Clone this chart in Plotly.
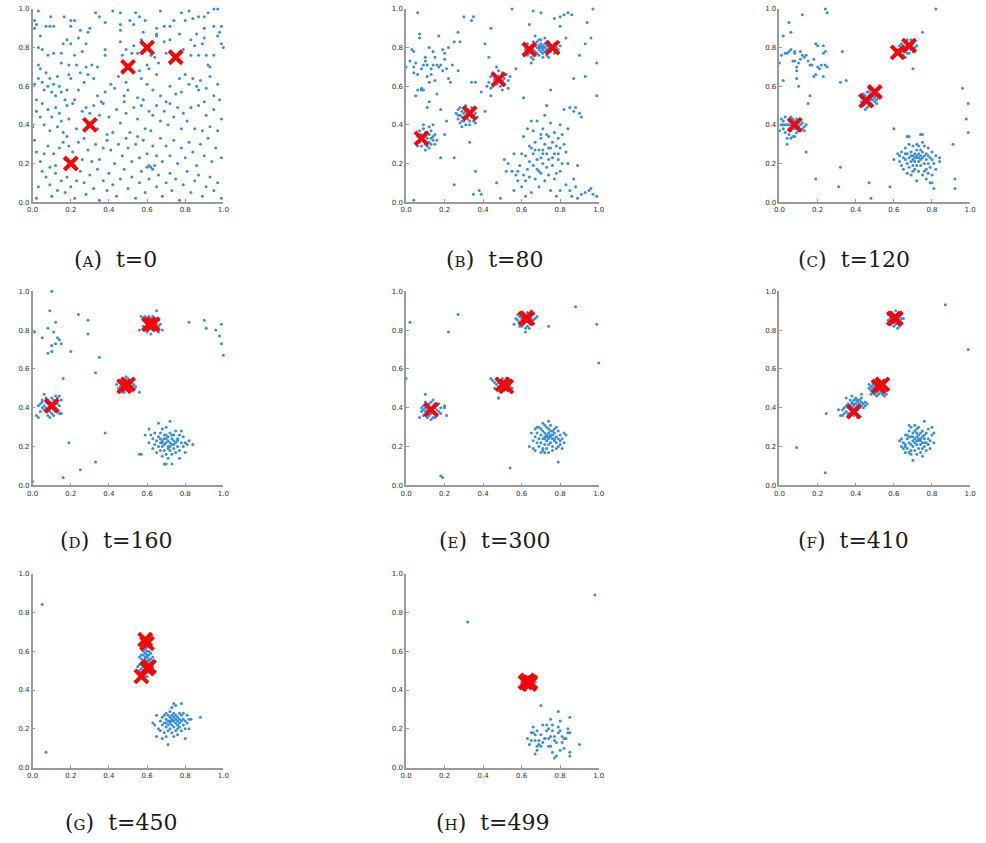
import plotly.graph_objects as go

# ---------------- data ----------------
LABELS = ["A", "B", "C", "D", "E", "F", "G", "H"]
TIMES = [0, 80, 120, 160, 300, 410, 450, 499]

PTS_A = [
(0.01,0.94),(0.02,0.92),(0.03,0.99),(0.01,0.90),(0.04,0.86),(0.07,0.91),(0.09,0.91),(0.095,0.96),(0.11,0.91),(0.165,0.96),
(0.2,0.94),(0.22,0.94),(0.2,0.91),(0.29,0.88),(0.30,0.90),(0.33,0.98),(0.35,0.96),(0.38,0.93),(0.42,0.99),(0.46,0.98),
(0.46,0.92),(0.51,0.94),(0.53,0.92),(0.54,0.98),(0.56,0.96),(0.59,0.94),(0.67,0.99),(0.65,0.90),(0.69,0.91),(0.72,0.91),
(0.74,0.94),(0.78,0.98),(0.80,0.94),(0.82,0.99),(0.84,0.95),(0.87,0.96),(0.90,0.96),(0.92,0.98),(0.95,1.0),(0.97,1.0),
(0.95,0.91),(0.99,0.91),(0.98,0.88),(0.97,0.86),(0.90,0.90),(0.86,0.87),(0.77,0.87),(0.58,0.88),(0.65,0.87),(0.46,0.89),(0.25,0.89),
(0.05,0.79),(0.03,0.80),(0.03,0.71),(0.08,0.76),(0.04,0.69),(0.11,0.77),(0.15,0.77),(0.16,0.82),(0.18,0.84),(0.20,0.82),
(0.15,0.72),(0.19,0.71),(0.22,0.76),(0.24,0.85),(0.28,0.82),(0.26,0.78),(0.23,0.71),(0.28,0.70),(0.31,0.71),(0.34,0.70),
(0.38,0.76),(0.38,0.79),(0.46,0.83),(0.49,0.79),(0.52,0.77),(0.53,0.81),(0.55,0.77),(0.57,0.84),(0.62,0.76),(0.66,0.72),
(0.64,0.75),(0.70,0.77),(0.72,0.84),(0.69,0.83),(0.79,0.79),(0.83,0.76),(0.85,0.81),(0.87,0.76),(0.89,0.82),(0.91,0.76),
(0.92,0.71),(0.93,0.70),(0.95,0.76),(0.99,0.82),(1.0,0.80),(0.83,0.84),(0.90,0.85),(0.47,0.76),(0.60,0.71),(0.65,0.86),
(0.01,0.61),(0.03,0.64),(0.05,0.62),(0.06,0.58),(0.07,0.67),(0.08,0.60),(0.09,0.64),(0.10,0.57),(0.11,0.61),(0.12,0.55),
(0.13,0.65),(0.14,0.60),(0.15,0.57),(0.17,0.53),(0.18,0.58),(0.19,0.66),(0.20,0.64),(0.22,0.53),(0.25,0.67),(0.27,0.62),
(0.29,0.66),(0.32,0.64),(0.34,0.55),(0.36,0.52),(0.38,0.57),(0.41,0.61),(0.43,0.59),(0.45,0.65),(0.48,0.55),(0.49,0.62),
(0.50,0.58),(0.55,0.54),(0.56,0.68),(0.58,0.53),(0.60,0.61),(0.61,0.69),(0.63,0.58),(0.65,0.66),(0.67,0.55),(0.70,0.52),
(0.72,0.60),(0.75,0.56),(0.77,0.64),(0.78,0.57),(0.80,0.66),(0.82,0.61),(0.84,0.64),(0.86,0.60),(0.87,0.58),(0.88,0.63),
(0.90,0.52),(0.91,0.59),(0.93,0.65),(0.95,0.55),(0.97,0.61),(0.98,0.53),(0.02,0.53),(0.24,0.58),(0.47,0.68),(0.57,0.64),
(0.0,0.39),(0.02,0.47),(0.04,0.44),(0.05,0.51),(0.06,0.40),(0.08,0.48),(0.09,0.37),(0.10,0.44),(0.12,0.49),(0.13,0.39),
(0.14,0.46),(0.16,0.36),(0.18,0.50),(0.19,0.43),(0.21,0.51),(0.23,0.38),(0.26,0.47),(0.28,0.49),(0.30,0.46),(0.32,0.50),
(0.34,0.38),(0.35,0.45),(0.37,0.51),(0.40,0.44),(0.42,0.36),(0.44,0.48),(0.46,0.41),(0.48,0.52),(0.49,0.46),(0.51,0.36),
(0.53,0.49),(0.55,0.43),(0.57,0.50),(0.59,0.38),(0.61,0.47),(0.63,0.45),(0.65,0.50),(0.67,0.42),(0.69,0.47),(0.71,0.40),
(0.72,0.51),(0.74,0.44),(0.76,0.49),(0.78,0.38),(0.79,0.46),(0.81,0.42),(0.83,0.49),(0.85,0.38),(0.87,0.50),(0.89,0.37),
(0.91,0.45),(0.93,0.39),(0.95,0.48),(0.97,0.37),(0.99,0.43),(0.39,0.35),(0.15,0.42),(0.62,0.37),
(0.01,0.32),(0.02,0.26),(0.04,0.21),(0.06,0.25),(0.08,0.29),(0.09,0.18),(0.11,0.25),(0.12,0.19),(0.14,0.28),(0.16,0.31),
(0.17,0.22),(0.19,0.29),(0.21,0.26),(0.22,0.19),(0.24,0.31),(0.26,0.22),(0.27,0.33),(0.29,0.27),(0.31,0.21),(0.33,0.30),
(0.35,0.22),(0.37,0.28),(0.39,0.32),(0.41,0.27),(0.43,0.20),(0.45,0.30),(0.47,0.24),(0.49,0.33),(0.50,0.28),(0.52,0.21),
(0.54,0.30),(0.56,0.23),(0.58,0.32),(0.60,0.25),(0.61,0.19),(0.63,0.29),(0.65,0.24),(0.67,0.33),(0.68,0.21),(0.70,0.29),
(0.72,0.24),(0.74,0.32),(0.76,0.20),(0.78,0.28),(0.80,0.23),(0.82,0.31),(0.84,0.26),(0.86,0.19),(0.88,0.30),(0.90,0.24),
(0.92,0.33),(0.94,0.21),(0.96,0.28),(0.99,0.23),(0.55,0.34),(0.18,0.34),(0.64,0.19),
(0.02,0.02),(0.03,0.08),(0.05,0.16),(0.07,0.13),(0.09,0.09),(0.10,0.03),(0.12,0.15),(0.13,0.06),(0.15,0.11),(0.17,0.05),
(0.18,0.13),(0.20,0.08),(0.22,0.02),(0.23,0.11),(0.25,0.16),(0.27,0.10),(0.28,0.04),(0.30,0.14),(0.32,0.07),(0.34,0.17),
(0.35,0.01),(0.37,0.11),(0.39,0.06),(0.40,0.15),(0.42,0.09),(0.44,0.03),(0.46,0.12),(0.48,0.17),(0.50,0.07),(0.52,0.13),
(0.54,0.02),(0.56,0.10),(0.57,0.16),(0.59,0.05),(0.61,0.12),(0.63,0.17),(0.65,0.08),(0.66,0.14),(0.68,0.03),(0.70,0.10),
(0.72,0.15),(0.73,0.06),(0.75,0.12),(0.77,0.01),(0.79,0.09),(0.81,0.16),(0.83,0.05),(0.85,0.11),(0.87,0.14),(0.89,0.03),
(0.91,0.08),(0.93,0.13),(0.95,0.06),(0.97,0.10),(0.99,0.02),(0.60,0.18),(0.62,0.18),
]

PTS_B = [
(0.06,0.34),(0.07,0.31),(0.07,0.37),(0.08,0.29),(0.08,0.35),(0.09,0.32),(0.09,0.38),(0.10,0.30),(0.10,0.34),(0.10,0.27),
(0.11,0.33),(0.11,0.36),(0.11,0.29),(0.12,0.31),(0.12,0.35),(0.12,0.28),(0.13,0.33),(0.13,0.37),(0.13,0.30),(0.14,0.34),
(0.14,0.32),(0.15,0.35),(0.15,0.30),(0.16,0.32),(0.09,0.40),(0.12,0.39),(0.14,0.40),(0.06,0.29),(0.11,0.31),(0.10,0.36),
(0.26,0.46),(0.27,0.43),(0.27,0.48),(0.28,0.45),(0.28,0.41),(0.29,0.47),(0.29,0.44),(0.30,0.42),(0.30,0.46),(0.30,0.49),
(0.31,0.44),(0.31,0.47),(0.31,0.40),(0.32,0.45),(0.32,0.43),(0.32,0.48),(0.33,0.46),(0.33,0.42),(0.34,0.44),(0.34,0.47),
(0.35,0.45),(0.35,0.42),(0.36,0.46),(0.37,0.44),(0.28,0.49),(0.29,0.42),(0.31,0.50),(0.33,0.40),(0.36,0.41),(0.27,0.45),
(0.30,0.44),(0.32,0.46),(0.34,0.49),(0.29,0.39),
(0.43,0.62),(0.44,0.65),(0.45,0.60),(0.45,0.67),(0.46,0.63),(0.46,0.66),(0.47,0.61),(0.47,0.64),(0.48,0.68),(0.48,0.62),
(0.49,0.65),(0.49,0.60),(0.50,0.63),(0.50,0.67),(0.51,0.64),(0.51,0.61),(0.52,0.66),(0.53,0.63),(0.53,0.59),(0.54,0.65),
(0.44,0.59),(0.47,0.70),(0.50,0.58),(0.46,0.64),(0.48,0.65),
(0.62,0.79),(0.63,0.76),(0.63,0.82),(0.64,0.80),(0.64,0.77),(0.65,0.81),(0.65,0.75),(0.66,0.79),(0.66,0.83),(0.67,0.78),
(0.67,0.81),(0.68,0.80),(0.68,0.77),(0.68,0.83),(0.69,0.79),(0.69,0.81),(0.69,0.76),(0.70,0.80),(0.70,0.78),(0.70,0.82),
(0.70,0.84),(0.71,0.79),(0.71,0.81),(0.71,0.77),(0.72,0.80),(0.72,0.82),(0.72,0.78),(0.73,0.79),(0.73,0.81),(0.73,0.76),
(0.74,0.80),(0.74,0.83),(0.75,0.78),(0.75,0.81),(0.76,0.79),(0.77,0.82),(0.77,0.77),(0.78,0.80),(0.79,0.79),(0.80,0.81),
(0.66,0.74),(0.69,0.84),(0.71,0.75),(0.72,0.85),(0.65,0.72),(0.74,0.75),(0.67,0.86),(0.70,0.81),(0.71,0.80),(0.69,0.80),
(0.00,0.70),(0.02,0.73),(0.03,0.79),(0.04,0.67),(0.04,0.70),(0.05,0.55),(0.05,0.72),(0.06,0.66),(0.06,0.98),(0.07,0.87),
(0.07,0.85),(0.08,0.69),(0.08,0.59),(0.09,0.58),(0.09,0.71),(0.10,0.73),(0.11,0.71),(0.11,0.65),(0.12,0.80),(0.12,0.62),
(0.13,0.66),(0.13,0.69),(0.14,0.71),(0.14,0.78),(0.15,0.63),(0.15,0.75),(0.16,0.71),(0.17,0.86),(0.17,0.70),(0.18,0.71),
(0.19,0.79),(0.19,0.68),(0.20,0.77),(0.20,0.74),(0.21,0.69),(0.22,0.80),(0.22,0.64),(0.23,0.62),(0.24,0.71),(0.25,0.83),
(0.27,0.68),(0.27,0.88),(0.28,0.83),(0.10,0.75),(0.12,0.52),(0.16,0.56),(0.18,0.48),(0.11,0.49),(0.08,0.58),(0.04,0.78),
(0.51,0.22),(0.52,0.16),(0.53,0.20),(0.55,0.16),(0.56,0.25),(0.56,0.06),(0.57,0.14),(0.58,0.16),(0.58,0.11),(0.59,0.19),
(0.60,0.08),(0.60,0.25),(0.61,0.14),(0.61,0.34),(0.62,0.11),(0.62,0.24),(0.63,0.17),(0.63,0.38),(0.64,0.21),(0.64,0.13),
(0.65,0.42),(0.65,0.28),(0.65,0.05),(0.66,0.25),(0.66,0.19),(0.66,0.37),(0.67,0.12),(0.67,0.31),(0.68,0.22),(0.68,0.42),
(0.68,0.17),(0.69,0.27),(0.69,0.08),(0.70,0.33),(0.70,0.23),(0.70,0.15),(0.71,0.38),(0.71,0.27),(0.71,0.20),(0.72,0.11),
(0.72,0.30),(0.72,0.45),(0.73,0.25),(0.73,0.18),(0.73,0.50),(0.74,0.34),(0.74,0.22),(0.74,0.14),(0.75,0.28),(0.75,0.06),
(0.75,0.41),(0.76,0.19),(0.76,0.31),(0.77,0.25),(0.77,0.12),(0.77,0.36),(0.78,0.29),(0.78,0.15),(0.78,0.03),(0.79,0.22),
(0.79,0.33),(0.80,0.28),(0.80,0.06),(0.81,0.20),(0.81,0.35),(0.82,0.30),(0.82,0.48),(0.83,0.09),(0.83,0.26),(0.84,0.20),
(0.84,0.38),(0.85,0.06),(0.85,0.49),(0.86,0.03),(0.87,0.47),(0.87,0.12),(0.88,0.49),(0.88,0.08),(0.89,0.02),(0.89,0.19),
(0.90,0.46),(0.91,0.44),(0.91,0.04),(0.93,0.05),(0.95,0.06),(0.96,0.07),(0.97,0.04),(0.99,0.03),(0.62,0.03),(0.70,0.35),
(0.73,0.35),(0.76,0.23),(0.79,0.25),(0.80,0.16),(0.67,0.27),(0.74,0.28),(0.71,0.25),(0.69,0.16),(0.64,0.29),(0.80,0.40),
(0.04,0.01),(0.18,0.23),(0.21,0.42),(0.25,0.09),(0.25,0.23),(0.33,0.31),(0.35,0.04),(0.36,0.16),(0.38,0.06),(0.39,0.04),
(0.41,0.47),(0.39,0.57),(0.34,0.62),(0.30,0.96),(0.34,0.94),(0.35,0.96),(0.41,0.82),(0.44,0.90),(0.43,0.75),(0.47,0.10),
(0.49,0.02),(0.55,1.0),(0.57,0.69),(0.61,0.54),(0.64,0.92),(0.66,0.99),(0.70,0.98),(0.75,0.58),(0.77,0.95),(0.80,0.91),
(0.80,0.96),(0.82,0.97),(0.84,0.98),(0.86,0.97),(0.83,0.85),(0.87,0.64),(0.90,0.76),(0.93,0.82),(0.94,0.93),(0.96,0.85),
(0.97,1.0),(0.99,0.72),(0.99,0.55),(0.93,0.65),(0.44,0.55),(0.42,0.60),(0.36,0.62),(0.20,0.35),(0.06,0.58),
]

PTS_C = [
(0.00,0.37),(0.01,0.40),(0.01,0.43),(0.02,0.38),(0.02,0.42),(0.03,0.36),(0.03,0.44),(0.04,0.40),(0.04,0.33),(0.04,0.30),
(0.05,0.38),(0.05,0.42),(0.05,0.35),(0.06,0.40),(0.06,0.44),(0.06,0.37),(0.07,0.41),(0.07,0.39),(0.07,0.34),(0.08,0.42),
(0.08,0.38),(0.08,0.40),(0.09,0.36),(0.09,0.43),(0.09,0.40),(0.10,0.39),(0.10,0.42),(0.10,0.37),(0.11,0.40),(0.11,0.43),
(0.12,0.38),(0.12,0.41),(0.13,0.37),(0.13,0.39),(0.14,0.40),(0.06,0.33),(0.08,0.34),(0.03,0.40),(0.05,0.40),(0.07,0.43),
(0.09,0.38),(0.11,0.37),(0.02,0.40),(0.14,0.26),
(0.42,0.55),(0.43,0.52),(0.43,0.54),(0.44,0.50),(0.44,0.56),(0.45,0.53),(0.45,0.55),(0.45,0.51),(0.46,0.54),(0.46,0.57),
(0.46,0.52),(0.47,0.50),(0.47,0.55),(0.47,0.53),(0.47,0.59),(0.48,0.54),(0.48,0.56),(0.48,0.51),(0.48,0.58),(0.49,0.53),
(0.49,0.55),(0.49,0.50),(0.50,0.54),(0.50,0.57),(0.50,0.52),(0.51,0.55),(0.51,0.53),(0.52,0.56),(0.52,0.54),(0.53,0.55),
(0.46,0.49),(0.44,0.53),(0.48,0.53),(0.47,0.57),(0.50,0.55),(0.49,0.58),(0.45,0.48),(0.51,0.51),
(0.62,0.79),(0.63,0.81),(0.63,0.77),(0.64,0.80),(0.64,0.78),(0.64,0.82),(0.65,0.79),(0.65,0.81),(0.65,0.76),(0.66,0.80),
(0.66,0.83),(0.66,0.78),(0.67,0.81),(0.67,0.79),(0.67,0.84),(0.68,0.80),(0.68,0.82),(0.68,0.77),(0.69,0.81),(0.69,0.79),
(0.70,0.80),(0.70,0.82),(0.71,0.80),(0.72,0.81),(0.65,0.84),(0.66,0.75),(0.69,0.84),(0.67,0.77),(0.64,0.76),(0.70,0.78),
(0.60,0.22),(0.62,0.25),(0.63,0.21),(0.64,0.19),(0.64,0.26),(0.65,0.23),(0.65,0.17),(0.66,0.22),(0.66,0.28),(0.67,0.20),
(0.67,0.25),(0.67,0.15),(0.68,0.23),(0.68,0.30),(0.68,0.18),(0.69,0.21),(0.69,0.26),(0.69,0.14),(0.70,0.24),(0.70,0.19),
(0.70,0.29),(0.70,0.22),(0.71,0.17),(0.71,0.25),(0.71,0.21),(0.72,0.27),(0.72,0.23),(0.72,0.11),(0.72,0.19),(0.73,0.25),
(0.73,0.21),(0.73,0.29),(0.73,0.16),(0.74,0.24),(0.74,0.22),(0.74,0.35),(0.74,0.19),(0.75,0.26),(0.75,0.23),(0.75,0.14),
(0.76,0.24),(0.76,0.20),(0.76,0.29),(0.77,0.22),(0.77,0.25),(0.77,0.17),(0.77,0.12),(0.78,0.24),(0.78,0.20),(0.78,0.28),
(0.79,0.23),(0.79,0.18),(0.80,0.22),(0.80,0.26),(0.81,0.20),(0.82,0.24),(0.82,0.17),(0.84,0.21),(0.84,0.23),(0.68,0.34),
(0.66,0.25),(0.70,0.16),(0.72,0.30),(0.75,0.31),(0.71,0.23),(0.74,0.27),(0.72,0.24),(0.76,0.16),(0.69,0.24),(0.73,0.23),
(0.63,0.24),(0.79,0.10),(0.80,0.14),(0.78,0.15),
(0.00,0.72),(0.01,0.76),(0.02,0.63),(0.02,0.86),(0.03,0.77),(0.04,0.77),(0.05,0.78),(0.05,0.93),(0.06,0.79),(0.06,0.88),
(0.07,0.73),(0.08,0.73),(0.08,0.77),(0.08,0.78),(0.09,0.68),(0.09,0.70),(0.09,0.64),(0.10,0.72),(0.10,0.60),(0.11,0.74),
(0.11,0.78),(0.12,0.76),(0.12,0.97),(0.13,0.75),(0.14,0.76),(0.15,0.73),(0.16,0.71),(0.16,0.55),(0.15,0.51),(0.17,0.71),
(0.18,0.65),(0.18,0.74),(0.19,0.66),(0.19,0.82),(0.20,0.81),(0.20,0.70),(0.21,0.69),(0.22,0.71),(0.23,0.81),(0.23,0.77),
(0.23,0.65),(0.24,0.78),(0.24,0.71),(0.25,0.70),(0.24,1.0),(0.25,0.98),
(0.19,0.12),(0.31,0.08),(0.32,0.18),(0.32,0.62),(0.33,0.78),(0.35,0.63),(0.47,0.10),(0.48,0.02),(0.58,0.08),(0.60,0.38),
(0.67,0.34),(0.70,0.69),(0.75,0.35),(0.75,0.88),(0.82,1.0),(0.80,0.10),(0.81,0.07),(0.91,0.30),(0.92,0.12),(0.92,0.07),
(0.96,0.59),(0.98,0.43),(0.99,0.51),(0.99,0.36),
]

PTS_D = [
(0.03,0.41),(0.04,0.38),(0.04,0.42),(0.05,0.40),(0.05,0.44),(0.06,0.39),(0.06,0.41),(0.06,0.47),(0.07,0.38),(0.07,0.43),
(0.07,0.40),(0.08,0.42),(0.08,0.36),(0.08,0.39),(0.08,0.44),(0.09,0.41),(0.09,0.38),(0.09,0.43),(0.10,0.40),(0.10,0.37),
(0.10,0.42),(0.10,0.45),(0.11,0.39),(0.11,0.41),(0.11,0.44),(0.12,0.38),(0.12,0.43),(0.12,0.40),(0.13,0.42),(0.13,0.39),
(0.13,0.45),(0.14,0.41),(0.14,0.37),(0.15,0.44),(0.15,0.37),(0.07,0.45),(0.09,0.35),(0.11,0.36),(0.05,0.43),(0.12,0.46),
(0.14,0.46),(0.02,0.36),
(0.44,0.52),(0.45,0.50),(0.45,0.54),(0.46,0.51),(0.46,0.53),(0.46,0.49),(0.47,0.52),(0.47,0.55),(0.47,0.50),(0.48,0.51),
(0.48,0.53),(0.48,0.48),(0.49,0.52),(0.49,0.50),(0.49,0.54),(0.49,0.56),(0.50,0.51),(0.50,0.49),(0.50,0.53),(0.51,0.52),
(0.51,0.50),(0.51,0.54),(0.52,0.51),(0.52,0.53),(0.53,0.52),(0.53,0.50),(0.54,0.51),(0.47,0.48),(0.50,0.55),(0.48,0.49),
(0.56,0.48),
(0.56,0.80),(0.57,0.87),(0.58,0.82),(0.58,0.85),(0.59,0.80),(0.59,0.84),(0.60,0.83),(0.60,0.86),(0.60,0.79),(0.61,0.82),
(0.61,0.84),(0.61,0.87),(0.62,0.81),(0.62,0.83),(0.62,0.78),(0.63,0.85),(0.63,0.82),(0.63,0.80),(0.64,0.84),(0.64,0.86),
(0.64,0.81),(0.65,0.83),(0.65,0.80),(0.65,0.90),(0.66,0.82),(0.66,0.85),(0.67,0.83),(0.68,0.80),(0.62,0.86),(0.60,0.81),
(0.63,0.87),(0.66,0.79),(0.59,0.87),
(0.59,0.26),(0.61,0.22),(0.62,0.26),(0.63,0.19),(0.63,0.24),(0.64,0.21),(0.64,0.27),(0.65,0.17),(0.65,0.23),(0.66,0.20),
(0.66,0.25),(0.66,0.32),(0.67,0.22),(0.67,0.18),(0.67,0.27),(0.68,0.23),(0.68,0.15),(0.68,0.20),(0.68,0.29),(0.69,0.24),
(0.69,0.21),(0.69,0.11),(0.69,0.18),(0.70,0.26),(0.70,0.22),(0.70,0.16),(0.70,0.30),(0.71,0.23),(0.71,0.20),(0.71,0.25),
(0.71,0.14),(0.72,0.22),(0.72,0.27),(0.72,0.18),(0.72,0.33),(0.73,0.24),(0.73,0.21),(0.73,0.16),(0.73,0.11),(0.74,0.23),
(0.74,0.26),(0.74,0.19),(0.75,0.22),(0.75,0.28),(0.75,0.17),(0.76,0.24),(0.76,0.20),(0.77,0.26),(0.77,0.18),(0.77,0.14),
(0.78,0.22),(0.78,0.28),(0.79,0.20),(0.79,0.25),(0.80,0.17),(0.80,0.22),(0.81,0.21),(0.82,0.23),(0.84,0.21),(0.57,0.16),
(0.69,0.26),(0.71,0.19),(0.73,0.26),(0.70,0.24),(0.72,0.20),(0.74,0.21),(0.68,0.22),(0.76,0.23),(0.70,0.11),(0.67,0.24),
(0.0,0.02),(0.01,0.79),(0.03,0.35),(0.05,0.76),(0.08,0.68),(0.08,0.81),(0.09,0.90),(0.10,0.69),(0.10,0.72),(0.10,1.0),
(0.11,0.79),(0.12,0.73),(0.12,0.84),(0.13,0.76),(0.14,0.75),(0.15,0.73),(0.16,0.55),(0.16,0.04),(0.19,0.22),(0.20,0.69),
(0.24,0.88),(0.25,0.08),(0.29,0.85),(0.29,0.78),(0.33,0.12),(0.33,0.58),(0.35,0.66),(0.38,0.27),(0.56,0.16),(0.61,0.29),
(0.82,0.84),(0.90,0.85),(0.91,0.81),(0.96,0.80),(0.98,0.77),(0.99,0.83),(0.99,0.73),(1.0,0.67),
]

PTS_E = [
(0.07,0.35),(0.08,0.38),(0.08,0.40),(0.09,0.36),(0.09,0.41),(0.10,0.38),(0.10,0.43),(0.10,0.40),(0.11,0.37),(0.11,0.41),
(0.11,0.39),(0.12,0.42),(0.12,0.38),(0.12,0.36),(0.12,0.40),(0.13,0.43),(0.13,0.39),(0.13,0.37),(0.14,0.41),(0.14,0.38),
(0.14,0.35),(0.15,0.40),(0.15,0.37),(0.15,0.42),(0.16,0.39),(0.16,0.36),(0.16,0.41),(0.17,0.38),(0.17,0.42),(0.18,0.37),
(0.18,0.40),(0.20,0.41),(0.20,0.40),(0.21,0.36),(0.10,0.47),(0.14,0.44),(0.11,0.35),(0.13,0.34),(0.15,0.35),(0.09,0.39),
(0.45,0.54),(0.46,0.50),(0.47,0.52),(0.47,0.55),(0.48,0.50),(0.48,0.53),(0.49,0.51),(0.49,0.54),(0.49,0.49),(0.50,0.52),
(0.50,0.55),(0.50,0.50),(0.51,0.53),(0.51,0.51),(0.51,0.49),(0.52,0.54),(0.52,0.52),(0.52,0.50),(0.53,0.53),(0.53,0.55),
(0.53,0.49),(0.54,0.51),(0.54,0.53),(0.55,0.50),(0.55,0.48),(0.48,0.45),(0.50,0.53),(0.52,0.55),(0.54,0.54),(0.46,0.53),
(0.56,0.83),(0.57,0.86),(0.58,0.85),(0.58,0.88),(0.59,0.84),(0.59,0.87),(0.60,0.86),(0.60,0.82),(0.61,0.88),(0.61,0.85),
(0.61,0.83),(0.62,0.87),(0.62,0.84),(0.62,0.79),(0.63,0.86),(0.63,0.89),(0.63,0.82),(0.64,0.85),(0.64,0.87),(0.65,0.84),
(0.65,0.86),(0.65,0.90),(0.66,0.85),(0.66,0.88),(0.67,0.86),(0.68,0.87),(0.60,0.89),(0.64,0.81),(0.62,0.81),(0.59,0.82),
(0.64,0.20),(0.65,0.27),(0.66,0.19),(0.66,0.23),(0.67,0.25),(0.67,0.29),(0.67,0.18),(0.68,0.22),(0.68,0.27),(0.69,0.24),
(0.69,0.20),(0.69,0.30),(0.70,0.26),(0.70,0.17),(0.70,0.22),(0.71,0.28),(0.71,0.24),(0.71,0.19),(0.71,0.32),(0.72,0.25),
(0.72,0.21),(0.72,0.27),(0.72,0.17),(0.73,0.23),(0.73,0.26),(0.73,0.30),(0.73,0.19),(0.74,0.24),(0.74,0.27),(0.74,0.21),
(0.74,0.33),(0.74,0.17),(0.75,0.25),(0.75,0.22),(0.75,0.28),(0.75,0.31),(0.76,0.24),(0.76,0.20),(0.76,0.26),(0.76,0.18),
(0.77,0.23),(0.77,0.27),(0.77,0.29),(0.78,0.22),(0.78,0.25),(0.78,0.19),(0.79,0.24),(0.79,0.28),(0.79,0.20),(0.80,0.23),
(0.80,0.26),(0.80,0.21),(0.81,0.24),(0.81,0.19),(0.82,0.27),(0.82,0.22),(0.83,0.26),(0.79,0.12),(0.71,0.18),(0.73,0.25),
(0.75,0.26),(0.77,0.24),(0.74,0.25),(0.72,0.24),(0.76,0.28),(0.70,0.29),(0.78,0.30),(0.68,0.30),(0.72,0.31),(0.74,0.29),
(0.00,0.55),(0.02,0.84),(0.18,0.05),(0.19,0.04),(0.22,0.79),(0.27,0.88),(0.44,0.55),(0.48,0.45),(0.54,0.09),(0.74,0.82),
(0.88,0.92),(0.99,0.83),(1.0,0.63),
]

PTS_F = [
(0.31,0.39),(0.32,0.36),(0.33,0.36),(0.33,0.39),(0.34,0.37),(0.35,0.41),(0.35,0.45),(0.35,0.38),(0.36,0.40),(0.36,0.42),
(0.36,0.37),(0.37,0.41),(0.37,0.39),(0.37,0.44),(0.38,0.42),(0.38,0.40),(0.38,0.38),(0.38,0.43),(0.39,0.41),(0.39,0.44),
(0.39,0.39),(0.39,0.36),(0.40,0.42),(0.40,0.40),(0.40,0.45),(0.40,0.38),(0.41,0.43),(0.41,0.41),(0.41,0.39),(0.42,0.42),
(0.42,0.44),(0.42,0.40),(0.43,0.43),(0.43,0.41),(0.43,0.45),(0.44,0.42),(0.44,0.40),(0.45,0.43),(0.45,0.41),(0.46,0.42),
(0.38,0.46),(0.40,0.44),(0.37,0.37),(0.41,0.35),(0.43,0.47),(0.36,0.36),(0.39,0.42),(0.41,0.44),(0.34,0.40),
(0.47,0.50),(0.48,0.49),(0.48,0.51),(0.48,0.47),(0.49,0.50),(0.49,0.52),(0.49,0.48),(0.50,0.51),(0.50,0.49),(0.50,0.53),
(0.50,0.47),(0.51,0.50),(0.51,0.52),(0.51,0.48),(0.52,0.49),(0.52,0.51),(0.52,0.47),(0.53,0.50),(0.53,0.48),(0.54,0.49),
(0.54,0.47),(0.55,0.48),(0.55,0.46),(0.56,0.47),(0.49,0.53),(0.51,0.46),(0.53,0.52),(0.47,0.52),(0.50,0.50),(0.52,0.53),
(0.57,0.85),(0.57,0.88),(0.58,0.86),(0.58,0.83),(0.59,0.87),(0.59,0.85),(0.59,0.89),(0.60,0.86),(0.60,0.84),(0.60,0.88),
(0.61,0.85),(0.61,0.87),(0.61,0.83),(0.61,0.90),(0.62,0.86),(0.62,0.84),(0.62,0.88),(0.63,0.85),(0.63,0.87),(0.63,0.82),
(0.64,0.86),(0.64,0.84),(0.65,0.86),(0.60,0.82),(0.62,0.81),(0.58,0.88),(0.64,0.88),
(0.63,0.23),(0.64,0.20),(0.64,0.24),(0.65,0.19),(0.65,0.22),(0.66,0.26),(0.66,0.17),(0.66,0.21),(0.67,0.24),(0.67,0.19),
(0.67,0.26),(0.68,0.22),(0.68,0.28),(0.68,0.17),(0.68,0.31),(0.69,0.25),(0.69,0.21),(0.69,0.18),(0.69,0.30),(0.70,0.23),
(0.70,0.27),(0.70,0.20),(0.70,0.13),(0.71,0.24),(0.71,0.22),(0.71,0.28),(0.71,0.18),(0.71,0.31),(0.72,0.25),(0.72,0.21),
(0.72,0.16),(0.72,0.29),(0.73,0.23),(0.73,0.26),(0.73,0.19),(0.73,0.30),(0.74,0.24),(0.74,0.21),(0.74,0.27),(0.74,0.17),
(0.75,0.22),(0.75,0.25),(0.75,0.28),(0.75,0.15),(0.76,0.24),(0.76,0.20),(0.76,0.26),(0.76,0.33),(0.77,0.22),(0.77,0.18),
(0.77,0.27),(0.78,0.24),(0.78,0.21),(0.78,0.29),(0.79,0.23),(0.79,0.19),(0.80,0.26),(0.80,0.30),(0.81,0.27),(0.81,0.22),
(0.73,0.24),(0.72,0.23),(0.74,0.23),(0.70,0.25),(0.76,0.22),(0.68,0.25),(0.75,0.19),(0.69,0.16),(0.72,0.27),(0.66,0.20),
(0.09,0.195),(0.24,0.065),(0.245,0.37),(0.87,0.93),(0.99,0.70),
]

PTS_G = [
(0.55,0.52),(0.56,0.50),(0.56,0.53),(0.56,0.57),(0.57,0.49),(0.57,0.51),(0.57,0.54),(0.57,0.56),(0.58,0.48),(0.58,0.52),
(0.58,0.55),(0.58,0.58),(0.58,0.60),(0.59,0.47),(0.59,0.50),(0.59,0.53),(0.59,0.56),(0.59,0.59),(0.59,0.61),(0.60,0.49),
(0.60,0.52),(0.60,0.54),(0.60,0.57),(0.60,0.60),(0.60,0.62),(0.61,0.50),(0.61,0.53),(0.61,0.55),(0.61,0.58),(0.61,0.60),
(0.62,0.51),(0.62,0.54),(0.62,0.56),(0.62,0.59),(0.63,0.52),(0.63,0.55),(0.63,0.57),(0.58,0.54),(0.60,0.55),(0.59,0.57),
(0.61,0.56),(0.57,0.58),(0.62,0.49),(0.60,0.47),(0.58,0.50),(0.60,0.58),(0.59,0.51),(0.61,0.52),
(0.63,0.23),(0.64,0.22),(0.65,0.27),(0.65,0.16),(0.66,0.20),(0.67,0.24),(0.67,0.19),(0.68,0.26),(0.68,0.22),(0.68,0.15),
(0.69,0.27),(0.69,0.23),(0.69,0.18),(0.70,0.25),(0.70,0.21),(0.70,0.28),(0.70,0.16),(0.71,0.24),(0.71,0.22),(0.71,0.12),
(0.71,0.19),(0.72,0.26),(0.72,0.23),(0.72,0.29),(0.72,0.20),(0.73,0.25),(0.73,0.22),(0.73,0.31),(0.73,0.18),(0.73,0.27),
(0.74,0.24),(0.74,0.21),(0.74,0.28),(0.74,0.16),(0.74,0.33),(0.75,0.25),(0.75,0.23),(0.75,0.19),(0.75,0.27),(0.75,0.32),
(0.76,0.24),(0.76,0.22),(0.76,0.26),(0.76,0.17),(0.77,0.25),(0.77,0.21),(0.77,0.23),(0.77,0.28),(0.78,0.24),(0.78,0.19),
(0.78,0.33),(0.79,0.22),(0.79,0.28),(0.79,0.25),(0.80,0.24),(0.80,0.20),(0.80,0.15),(0.81,0.27),(0.81,0.23),(0.82,0.20),
(0.82,0.25),(0.83,0.25),(0.88,0.26),(0.71,0.27),(0.74,0.26),(0.72,0.24),(0.76,0.20),(0.73,0.24),(0.78,0.27),(0.70,0.23),
(0.05,0.84),(0.07,0.08),
]

PTS_H = [
(0.60,0.44),(0.61,0.46),(0.62,0.42),(0.63,0.47),(0.64,0.41),(0.65,0.45),(0.66,0.43),(0.67,0.44),(0.67,0.46),(0.62,0.40),
(0.64,0.47),(0.66,0.41),
(0.63,0.15),(0.64,0.12),(0.65,0.18),(0.65,0.14),(0.66,0.21),(0.66,0.18),(0.67,0.07),(0.67,0.14),(0.67,0.17),(0.68,0.11),
(0.68,0.19),(0.68,0.09),(0.69,0.14),(0.70,0.17),(0.70,0.11),(0.71,0.13),(0.71,0.22),(0.72,0.15),(0.73,0.22),(0.73,0.19),
(0.74,0.15),(0.74,0.20),(0.74,0.11),(0.75,0.25),(0.75,0.16),(0.75,0.11),(0.76,0.19),(0.76,0.08),(0.76,0.22),(0.77,0.05),
(0.77,0.14),(0.77,0.16),(0.78,0.13),(0.78,0.06),(0.79,0.21),(0.79,0.29),(0.79,0.18),(0.80,0.09),(0.80,0.24),(0.80,0.19),
(0.81,0.16),(0.81,0.13),(0.82,0.15),(0.82,0.10),(0.83,0.15),(0.84,0.20),(0.84,0.18),(0.85,0.26),(0.85,0.08),(0.85,0.06),
(0.85,0.18),(0.90,0.12),(0.70,0.32),(0.72,0.15),(0.69,0.12),
(0.32,0.75),(0.98,0.89),
]

CENT_A = [(0.2,0.2),(0.3,0.4),(0.5,0.7),(0.6,0.8),(0.75,0.75)]
CENT_B = [(0.08,0.33),(0.33,0.46),(0.48,0.635),(0.64,0.79),(0.76,0.80)]
CENT_C = [(0.08,0.40),(0.455,0.525),(0.50,0.57),(0.62,0.775),(0.68,0.81)]
CENT_D = [(0.10,0.41),(0.48,0.51),(0.50,0.52),(0.61,0.83),(0.63,0.83)]
CENT_E = [(0.13,0.39),(0.50,0.52),(0.52,0.51),(0.62,0.86),(0.63,0.86)]
CENT_F = [(0.39,0.38),(0.52,0.51),(0.54,0.52),(0.60,0.86),(0.61,0.86)]
CENT_G = [(0.57,0.47),(0.60,0.51),(0.59,0.66),(0.60,0.64),(0.61,0.52)]
CENT_H = [(0.62,0.44),(0.64,0.43),(0.63,0.45),(0.645,0.44),(0.63,0.44)]

POINTS = [PTS_A, PTS_B, PTS_C, PTS_D, PTS_E, PTS_F, PTS_G, PTS_H]
CENTROIDS = [CENT_A, CENT_B, CENT_C, CENT_D, CENT_E, CENT_F, CENT_G, CENT_H]
TICKS = [0.0, 0.2, 0.4, 0.6, 0.8, 1.0]

# ---------------- layout ----------------
W, H = 986, 843
COLS_PX = [(27, 220), (405, 600), (783, 976)]
ROWS_PX = [(5, 200), (290, 486), (575, 771)]
CAP_X = [[111, 495, 858], [111, 495, 858], [116, 493, 858]]
CAP_Y = [258, 542, 826]

fig = go.Figure()
layout = dict(width=W, height=H, margin=dict(l=0, r=0, t=0, b=0),
              paper_bgcolor="white", plot_bgcolor="white", showlegend=False)
annotations = []

for i, (pts, cents) in enumerate(zip(POINTS, CENTROIDS)):
    r, c = divmod(i, 3)
    n = "" if i == 0 else str(i + 1)
    x0, x1 = COLS_PX[c]
    y0, y1 = ROWS_PX[r]
    ax = dict(range=[0, 1], domain=[x0 / W, x1 / W], tickvals=TICKS,
              ticktext=[f"{t:.1f}" for t in TICKS], showgrid=False, zeroline=False,
              showline=True, linecolor="#9a9a9a", linewidth=1.5, ticks="inside",
              ticklen=3, tickcolor="#9a9a9a", ticklabeloverflow="allow",
              tickfont=dict(size=7, color="#333", family="DejaVu Sans"),
              fixedrange=True)
    ay = dict(ax)
    ay["domain"] = [1 - y1 / H, 1 - y0 / H]
    layout["xaxis" + n] = dict(ax, anchor="y" + n)
    layout["yaxis" + n] = dict(ay, anchor="x" + n)
    fig.add_trace(go.Scatter(
        x=[p[0] for p in pts], y=[p[1] for p in pts], mode="markers",
        xaxis="x" + n, yaxis="y" + n, cliponaxis=False,
        marker=dict(size=3, color="#3a8fdc", line=dict(width=0))))
    fig.add_trace(go.Scatter(
        x=[p[0] for p in cents], y=[p[1] for p in cents], mode="markers",
        xaxis="x" + n, yaxis="y" + n, cliponaxis=False,
        marker=dict(symbol="x-thin", size=13, color="red",
                    line=dict(width=4, color="#ff0000"))))
    annotations.append(dict(
        x=CAP_X[r][c] / W, y=1 - CAP_Y[r] / H, xref="paper", yref="paper",
        xanchor="center", yanchor="middle", showarrow=False,
        text=f"(<span style='font-size:15px'>{LABELS[i]}</span>)  t={TIMES[i]}",
        font=dict(size=22, color="#1a1a1a", family="DejaVu Serif, Liberation Serif, serif")))

layout["annotations"] = annotations
fig.update_layout(**layout)
fig.write_html(
    "out.html",
    config={"displayModeBar": False},
    post_script="document.body.style.margin='0';document.body.style.overflow='hidden';"
                "document.documentElement.style.overflow='hidden';",
)
